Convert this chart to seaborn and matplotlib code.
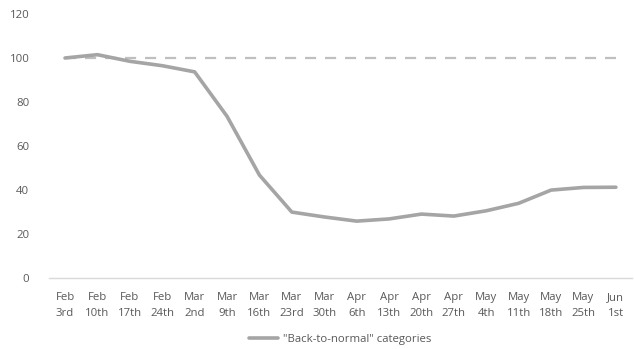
import matplotlib
matplotlib.use("Agg")
import matplotlib.pyplot as plt
import seaborn as sns
import pandas as pd

categories = ["Feb\n3rd", "Feb\n10th", "Feb\n17th", "Feb\n24th", "Mar\n2nd", "Mar\n9th",
              "Mar\n16th", "Mar\n23rd", "Mar\n30th", "Apr\n6th", "Apr\n13th", "Apr\n20th",
              "Apr\n27th", "May\n4th", "May\n11th", "May\n18th", "May\n25th", "Jun\n1st"]
values = [100, 101.5, 98.5, 96.5, 93.7, 73.5, 46.8, 30, 27.8, 25.9, 26.9, 29.1,
          28.2, 30.6, 34, 40, 41.2, 41.3]
baseline = [100] * len(categories)
series_name = "\"Back-to-normal\" categories"

sns.set_theme(style="white")
plt.rcParams['font.family'] = ['Open Sans', 'DejaVu Sans']

df = pd.DataFrame({"x": range(len(categories)), "v": values, "b": baseline})

fig = plt.figure(figsize=(6.34, 3.49), dpi=100)
ax = fig.add_axes([0.077, 0.203, 0.92, 0.757])

sns.lineplot(data=df, x="x", y="b", ax=ax, color="#BFBFBF", linewidth=1.6,
             linestyle=(0, (5, 4)), legend=False)
sns.lineplot(data=df, x="x", y="v", ax=ax, color="#A5A5A5", linewidth=2.6,
             label=series_name)

ax.set_xlim(-0.5, len(categories) - 0.5)
ax.set_ylim(0, 120)
ax.set_yticks([0, 20, 40, 60, 80, 100, 120])
ax.set_xticks(range(len(categories)))
ax.set_xticklabels(categories, multialignment="center", linespacing=1.6)
ax.set_xlabel("")
ax.set_ylabel("")
ax.tick_params(axis="both", labelsize=8.2, colors="#595959", length=0)
ax.tick_params(axis="x", pad=10)
ax.tick_params(axis="y", pad=14)
for s in ["top", "right", "left"]:
    ax.spines[s].set_visible(False)
ax.spines["bottom"].set_color("#D9D9D9")
ax.spines["bottom"].set_linewidth(1)

leg = ax.legend(loc="lower center", bbox_to_anchor=(0.5, -0.29), frameon=False,
                fontsize=8.2, handlelength=2.5, handletextpad=0.5)
for t in leg.get_texts():
    t.set_color("#595959")

fig.savefig("out.png", dpi=100)
